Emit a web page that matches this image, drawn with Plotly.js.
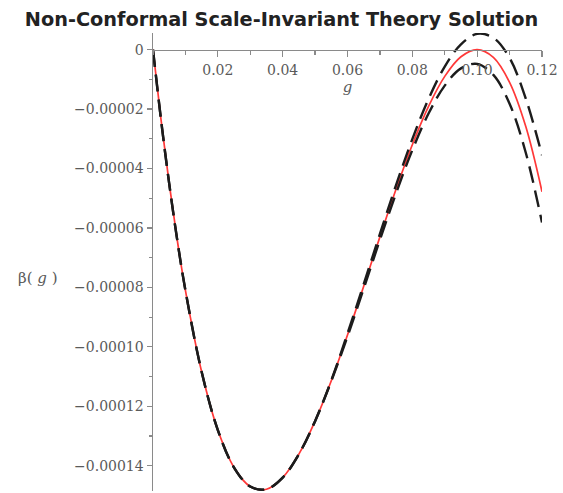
<!DOCTYPE html>
<html>
<head>
<meta charset="utf-8">
<script src="https://cdn.plot.ly/plotly-3.0.1.min.js"></script>
<style>
html, body { margin: 0; padding: 0; background: #fff; }
#chart { width: 563px; height: 493px; }
</style>
</head>
<body>
<div id="chart"></div>
<script>
// coupling g
const gValues = [0, 0.0025, 0.005, 0.0075, 0.01, 0.015, 0.02, 0.025, 0.03, 0.035, 0.04,
  0.045, 0.05, 0.055, 0.06, 0.065, 0.07, 0.075, 0.08, 0.085, 0.09, 0.095, 0.1,
  0.105, 0.11, 0.115, 0.12];
// solution (red, solid)
const betaSolution = [0, -2.38e-5, -4.51e-5, -6.42e-5, -8.10e-5, -10.84e-5, -12.80e-5, -14.06e-5,
  -14.70e-5, -14.79e-5, -14.40e-5, -13.61e-5, -12.50e-5, -11.14e-5, -9.60e-5, -7.96e-5,
  -6.30e-5, -4.69e-5, -3.20e-5, -1.91e-5, -0.90e-5, -0.24e-5, 0, -0.26e-5, -1.10e-5,
  -2.59e-5, -4.78e-5];
// upper dashed bound
const betaUpper = [0, -2.38e-5, -4.51e-5, -6.42e-5, -8.10e-5, -10.84e-5, -12.80e-5, -14.06e-5,
  -14.70e-5, -14.79e-5, -14.40e-5, -13.61e-5, -12.50e-5, -11.13e-5, -9.55e-5, -7.89e-5,
  -6.20e-5, -4.55e-5, -3.01e-5, -1.66e-5, -0.57e-5, 0.18e-5, 0.53e-5, 0.40e-5, -0.28e-5,
  -1.65e-5, -3.55e-5];
// lower dashed bound
const betaLower = [0, -2.38e-5, -4.51e-5, -6.42e-5, -8.10e-5, -10.84e-5, -12.80e-5, -14.06e-5,
  -14.70e-5, -14.79e-5, -14.40e-5, -13.61e-5, -12.50e-5, -11.15e-5, -9.65e-5, -8.04e-5,
  -6.40e-5, -4.83e-5, -3.38e-5, -2.15e-5, -1.21e-5, -0.63e-5, -0.48e-5, -0.85e-5, -1.82e-5,
  -3.47e-5, -5.82e-5];

const xTickVals = [0.02, 0.04, 0.06, 0.08, 0.10, 0.12];
const xTickText = ["0.02", "0.04", "0.06", "0.08", "0.10", "0.12"];
const yTickVals = [0, -0.00002, -0.00004, -0.00006, -0.00008, -0.00010, -0.00012, -0.00014];
const yTickText = ["0", "\u22120.00002", "\u22120.00004", "\u22120.00006", "\u22120.00008",
  "\u22120.00010", "\u22120.00012", "\u22120.00014"];

const titleText = "Non-Conformal Scale-Invariant Theory Solution";
const xLabel = "<i>g</i>";
const yLabel = "\u03b2(<i> g </i>)";

const xRange = [0, 0.12];
const yRange = [-1.485e-4, 5.6e-6];
const xAxisPos = (0 - yRange[0]) / (yRange[1] - yRange[0]);

const axisColor = "#8a8a8a";
const labelColor = "#5a5a5a";
const serif = "DejaVu Serif, serif";

const traces = [
  { x: gValues, y: betaSolution, type: "scatter", mode: "lines",
    line: { color: "#ff3838", width: 1.7, shape: "spline" }, hoverinfo: "skip" },
  { x: gValues, y: betaUpper, type: "scatter", mode: "lines",
    line: { color: "#1c1c1c", width: 2.4, dash: "17px,8px", shape: "spline" }, hoverinfo: "skip" },
  { x: gValues, y: betaLower, type: "scatter", mode: "lines",
    line: { color: "#1c1c1c", width: 2.4, dash: "17px,8px", shape: "spline" }, hoverinfo: "skip" }
];

const layout = {
  width: 563, height: 493,
  margin: { l: 153, r: 21, t: 33, b: 2 },
  paper_bgcolor: "#ffffff", plot_bgcolor: "#ffffff",
  showlegend: false,
  title: { text: "<b>" + titleText + "</b>", x: 0.5, xanchor: "center", y: 0.96, yanchor: "middle",
    font: { family: "DejaVu Sans, sans-serif", size: 19.3, color: "#222222" } },
  xaxis: {
    range: xRange, anchor: "free", position: xAxisPos, side: "bottom",
    showline: true, linecolor: axisColor, linewidth: 1.5,
    zeroline: false, showgrid: false,
    tickmode: "array", tickvals: xTickVals, ticktext: xTickText,
    ticks: "outside", ticklen: 6, tickwidth: 1.2, tickcolor: axisColor,
    ticklabelstandoff: 1,
    tickfont: { family: serif, size: 14, color: labelColor },
    minor: { tickmode: "linear", tick0: 0, dtick: 0.01, ticks: "outside", ticklen: 4, tickwidth: 1.2, tickcolor: axisColor },
    title: { text: xLabel, standoff: 2, font: { family: serif, size: 15, color: labelColor } }
  },
  yaxis: {
    range: yRange, showline: true, linecolor: axisColor, linewidth: 1.5,
    zeroline: false, showgrid: false,
    tickmode: "array", tickvals: yTickVals, ticktext: yTickText,
    ticks: "outside", ticklen: 5, tickwidth: 1.2, tickcolor: axisColor,
    tickfont: { family: serif, size: 14, color: labelColor },
    minor: { tickmode: "linear", tick0: 0, dtick: 0.00001, ticks: "outside", ticklen: 3, tickwidth: 1.2, tickcolor: axisColor }
  },
  annotations: [
    { text: yLabel, xref: "paper", yref: "paper", x: -0.3, y: 0.465, xanchor: "center", yanchor: "middle",
      xshift: 2, showarrow: false, font: { family: serif, size: 15, color: labelColor } }
  ]
};

Plotly.newPlot("chart", traces, layout, { staticPlot: true, displayModeBar: false });
</script>
</body>
</html>
